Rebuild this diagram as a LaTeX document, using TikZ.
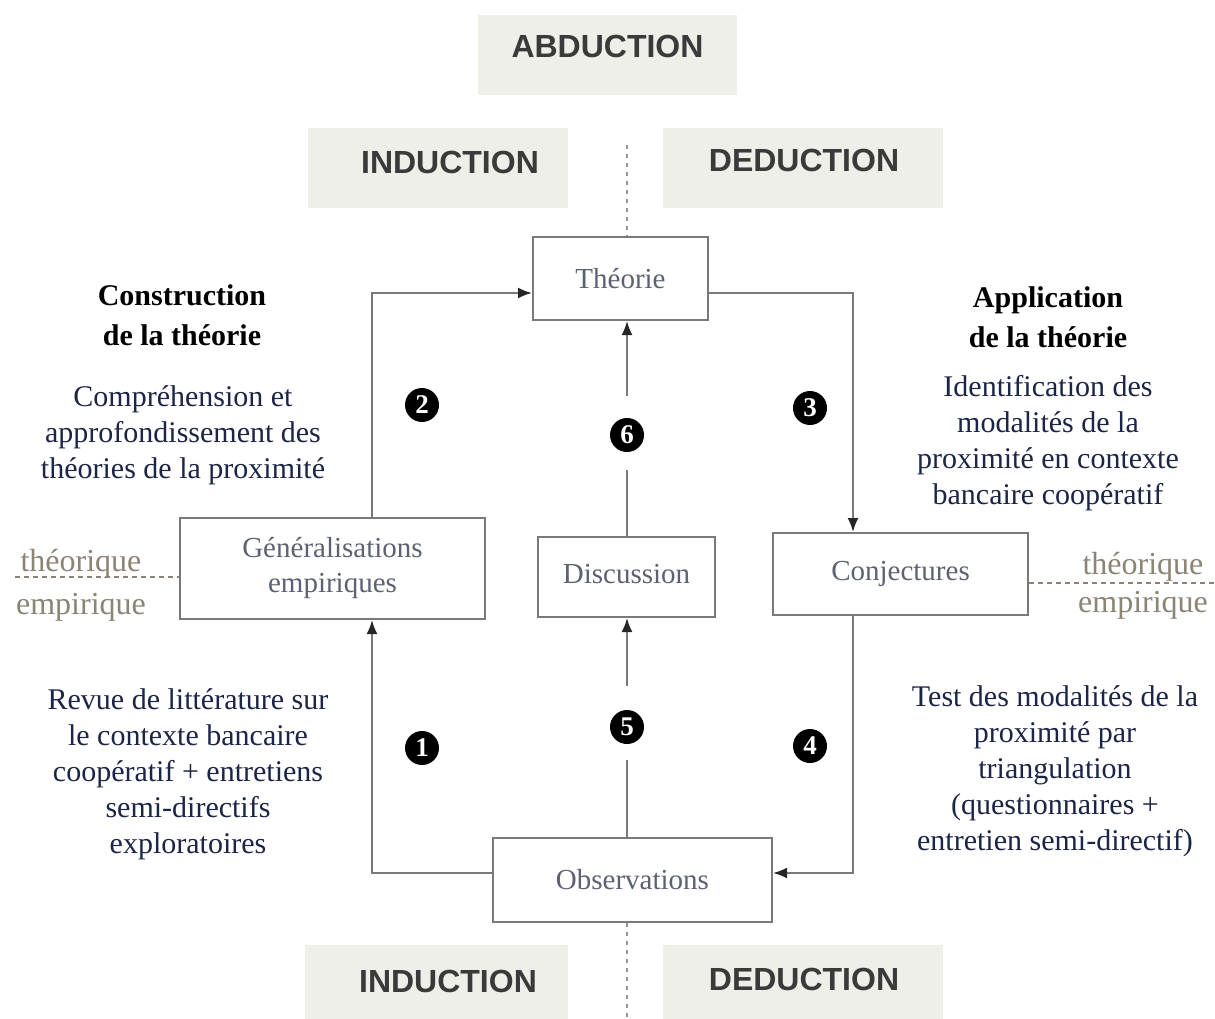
\documentclass[tikz,border=0pt]{standalone}
\usepackage{fontspec}
\setmainfont{Liberation Serif}
\newfontfamily\bandfont{Liberation Sans}
\usetikzlibrary{arrows.meta}
\definecolor{bandgray}{HTML}{EFEFEA}
\definecolor{bandtext}{HTML}{3A3A3A}
\definecolor{navy}{HTML}{1C2547}
\definecolor{boxtext}{HTML}{5C6272}
\definecolor{linegray}{HTML}{7A7A7A}
\definecolor{scalegray}{HTML}{8C8474}
\tikzset{
  band/.style={fill=bandgray, draw=none, inner sep=0pt},
  bandlabel/.style={text=bandtext, font=\bandfont\bfseries\fontsize{32}{36}\selectfont, inner sep=0pt},
  box/.style={draw=linegray, line width=2pt, fill=white, text=boxtext, font=\fontsize{29}{36}\selectfont, align=center, inner sep=0pt},
  conn/.style={draw=linegray, line width=2pt},
  arr/.style={conn, -{Latex[length=14pt,width=11pt,color=black!85]}},
  num/.style={circle, fill=black, text=white, inner sep=0pt, minimum size=34pt, font=\bfseries\fontsize{27}{27}\selectfont},
  note/.style={text=navy, align=center, font=\fontsize{30}{36}\selectfont, inner sep=0pt},
  head/.style={text=black, align=center, font=\bfseries\fontsize{30}{40}\selectfont, inner sep=0pt},
  levellabel/.style={text=scalegray, font=\fontsize{32}{38}\selectfont, inner sep=0pt},
  sep/.style={draw=scalegray, line width=1.5pt, dash pattern=on 5pt off 4pt},
  axis/.style={draw=linegray!80, line width=1.5pt, dash pattern=on 4pt off 5pt}
}
\begin{document}
\begin{tikzpicture}[x=1pt,y=-1pt]
\useasboundingbox (0,0) rectangle (1215,1019);
\fill[white] (0,0) rectangle (1215,1019);

% bands
\node[band, minimum width=259pt, minimum height=80pt] (abdB) at (607.5,55) {};
\node[band, minimum width=260pt, minimum height=80pt] (indTB) at (438,168) {};
\node[band, minimum width=280pt, minimum height=80pt] (dedTB) at (803,168) {};
\node[band, minimum width=263pt, minimum height=74pt] (indBB) at (436.5,982) {};
\node[band, minimum width=280pt, minimum height=74pt] (dedBB) at (803,982) {};
\node[bandlabel] (abd) at (607.5,46) {ABDUCTION};
\node[bandlabel] (indT) at (450,162) {INDUCTION};
\node[bandlabel] (dedT) at (804,160) {DEDUCTION};
\node[bandlabel] (indB) at (448,981) {INDUCTION};
\node[bandlabel] (dedB) at (804,979) {DEDUCTION};

% boxes
\node[box, minimum width=175pt, minimum height=83pt] (theo) at (620.5,278.5) {Théorie};
\node[box, minimum width=305pt, minimum height=101pt] (gen) at (332.5,568.5) {Généralisations\\[-1pt]empiriques\vphantom{g}};
\node[box, minimum width=177pt, minimum height=80pt] (disc) at (626.5,577) {Discussion\\[-30pt]\mbox{}};
\node[box, minimum width=255pt, minimum height=82pt] (conj) at (900.5,574) {Conjectures};
\node[box, minimum width=279pt, minimum height=84pt] (obs) at (632.5,880) {Observations};

% axis dotted lines
\coordinate (axT) at (627,145);
\coordinate (axB) at (627,1019);
\draw[axis] (axT) -- (theo.north -| axT);
\draw[axis] (obs.south -| axB) -- (axB);

% numbers
\node[num] (n1) at (422,748) {1};
\node[num] (n2) at (422,405) {2};
\node[num] (n3) at (810,408) {3};
\node[num] (n4) at (810,746) {4};
\node[num] (n5) at (627,727) {5};
\node[num] (n6) at (627,435) {6};

% loop connectors
\coordinate (c1) at (372,293);
\coordinate (c2) at (853,293);
\coordinate (c3) at (853,873);
\coordinate (c4) at (372,873);
\draw[arr] (gen.north -| c1) -- (c1) -- (theo.west |- c1);
\draw[arr] (theo.east |- c2) -- (c2) -- (conj.north -| c2);
\draw[arr] (conj.south -| c3) -- (c3) -- (obs.east |- c3);
\draw[arr] (obs.west |- c4) -- (c4) -- (gen.south -| c4);

% central connectors
\draw[conn, shorten >=16pt] (obs.north -| n5) -- (n5.south);
\draw[arr, shorten <=24pt] (n5.north) -- (disc.south -| n5);
\draw[conn, shorten >=18pt] (disc.north -| n6) -- (n6.south);
\draw[arr, shorten <=22pt] (n6.north) -- (theo.south -| n6);

% theorique / empirique
\node[levellabel] (thL) at (81,564) {théorique};
\node[levellabel] (emL) at (81,607) {empirique};
\node[levellabel] (thR) at (1143,567) {théorique};
\node[levellabel] (emR) at (1143,605) {empirique};
\coordinate (sL) at (15,577);
\coordinate (sR) at (1215,583);
\draw[sep] (sL) -- (gen.west |- sL);
\draw[sep] (conj.east |- sR) -- (sR);

% side texts
\node[head] (hL) at (182,315) {Construction\\de la théorie};
\node[head] (hR) at (1048,317) {Application\\de la théorie};
\node[note] (tL1) at (183,435) {Compréhension et\\approfondissement des\\théories de la proximité};
\node[note] (tR1) at (1048,443) {Identification des\\modalités de la\\proximité en contexte\\bancaire coopératif};
\node[note] (tL2) at (188,774) {Revue de littérature sur\\le contexte bancaire\\coopératif + entretiens\\semi-directifs\\exploratoires};
\node[note] (tR2) at (1055,771) {Test des modalités de la\\proximité par\\triangulation\\(questionnaires +\\entretien semi-directif)};
\end{tikzpicture}
\end{document}
